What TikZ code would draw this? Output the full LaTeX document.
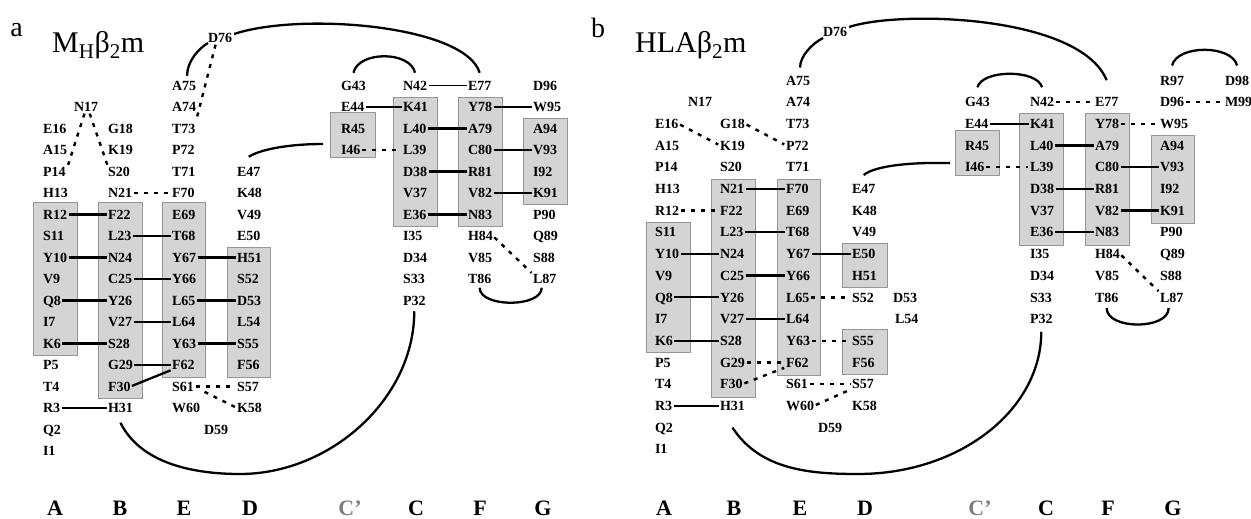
\documentclass[tikz,border=0pt]{standalone}
\usepackage{fontspec}
\setmainfont{Liberation Serif}
\usetikzlibrary{calc}
\definecolor{boxgray}{RGB}{212,212,212}
\definecolor{boxedge}{RGB}{150,150,150}
\definecolor{cpgray}{RGB}{125,125,125}
\newcommand\RA[3]{\node[res] (a#3) at (#1,{107+21.5*(#2)}) {#3};}
\newcommand\RB[3]{\node[res] (b#3) at (#1,{102+21.7*(#2)}) {#3};}
\begin{document}
\begin{tikzpicture}[x=1pt,y=-1pt,
  res/.style={anchor=west,inner sep=0pt,outer sep=0pt,text height=9.5pt,text depth=0pt,font=\fontsize{14}{14}\selectfont\bfseries},
  strand/.style={fill=boxgray,draw=boxedge,line width=0.9pt},
  bond/.style={line width=2.3pt,shorten <=1.5pt,shorten >=1.5pt},
  thinbond/.style={line width=1.2pt,shorten <=1.5pt,shorten >=1.5pt},
  hb/.style={line width=2.4pt,dash pattern=on 4pt off 6pt,shorten <=2pt,shorten >=2pt},
  loopline/.style={line width=2.3pt},
  strandlab/.style={font=\fontsize{22}{22}\selectfont\bfseries,inner sep=0pt},
  titlelab/.style={font=\fontsize{30}{30}\selectfont,anchor=base west,inner sep=0pt},
  panellab/.style={font=\fontsize{28}{28}\selectfont,inner sep=0pt}]
\useasboundingbox (0,0) rectangle (1251,519);

% ---------------- panel a ----------------
\node[panellab] (pa) at (16.5,30) {a};
\node[titlelab] (ta) at (52,53) {M\textsubscript{H}β\textsubscript{2}m};

\draw[strand] (33,202) rectangle (77,355);
\draw[strand] (98,202) rectangle (142,398);
\draw[strand] (162,202) rectangle (205,377);
\draw[strand] (227,247) rectangle (270,377);
\draw[strand] (330,112) rectangle (375,157);
\draw[strand] (393,97) rectangle (437,226);
\draw[strand] (458,97) rectangle (502,226);
\draw[strand] (523,118) rectangle (567,204);

\RA{43}{1}{E16}\RA{43}{2}{A15}\RA{43}{3}{P14}\RA{43}{4}{H13}\RA{43}{5}{R12}
\RA{43}{6}{S11}\RA{43}{7}{Y10}\RA{43}{8}{V9}\RA{43}{9}{Q8}\RA{43}{10}{I7}
\RA{43}{11}{K6}\RA{43}{12}{P5}\RA{43}{13}{T4}\RA{43}{14}{R3}\RA{43}{15}{Q2}\RA{43}{16}{I1}
\RA{74}{0}{N17}
\RA{108}{1}{G18}\RA{108}{2}{K19}\RA{108}{3}{S20}\RA{108}{4}{N21}\RA{108}{5}{F22}
\RA{108}{6}{L23}\RA{108}{7}{N24}\RA{108}{8}{C25}\RA{108}{9}{Y26}\RA{108}{10}{V27}
\RA{108}{11}{S28}\RA{108}{12}{G29}\RA{108}{13}{F30}\RA{108}{14}{H31}
\RA{172}{-1}{A75}\RA{172}{0}{A74}\RA{172}{1}{T73}\RA{172}{2}{P72}\RA{172}{3}{T71}
\RA{172}{4}{F70}\RA{172}{5}{E69}\RA{172}{6}{T68}\RA{172}{7}{Y67}\RA{172}{8}{Y66}
\RA{172}{9}{L65}\RA{172}{10}{L64}\RA{172}{11}{Y63}\RA{172}{12}{F62}\RA{172}{13}{S61}
\RA{172}{14}{W60}
\RA{204}{15}{D59}
\node[res] (aD76) at (208,38) {D76};
\RA{237}{3}{E47}\RA{237}{4}{K48}\RA{237}{5}{V49}\RA{237}{6}{E50}\RA{237}{7}{H51}
\RA{237}{8}{S52}\RA{237}{9}{D53}\RA{237}{10}{L54}\RA{237}{11}{S55}\RA{237}{12}{F56}
\RA{237}{13}{S57}\RA{237}{14}{K58}
\RA{341}{-1}{G43}\RA{341}{0}{E44}\RA{341}{1}{R45}\RA{341}{2}{I46}
\RA{403}{-1}{N42}\RA{403}{0}{K41}\RA{403}{1}{L40}\RA{403}{2}{L39}\RA{403}{3}{D38}
\RA{403}{4}{V37}\RA{403}{5}{E36}\RA{403}{6}{I35}\RA{403}{7}{D34}\RA{403}{8}{S33}\RA{403}{9}{P32}
\RA{468}{-1}{E77}\RA{468}{0}{Y78}\RA{468}{1}{A79}\RA{468}{2}{C80}\RA{468}{3}{R81}
\RA{468}{4}{V82}\RA{468}{5}{N83}\RA{468}{6}{H84}\RA{468}{7}{V85}\RA{468}{8}{T86}
\RA{533}{-1}{D96}\RA{533}{0}{W95}\RA{533}{1}{A94}\RA{533}{2}{V93}\RA{533}{3}{I92}
\RA{533}{4}{K91}\RA{533}{5}{P90}\RA{533}{6}{Q89}\RA{533}{7}{S88}\RA{533}{8}{L87}

% bonds a
\foreach \l/\r in {R12/F22,L23/T68,Y10/N24,Y67/H51,C25/Y66,Q8/Y26,L65/D53,V27/L64,
  K6/S28,Y63/S55,R3/H31,E44/K41,L40/A79,D38/R81,E36/N83,C80/V93,V82/K91}
  {\draw[bond] (a\l.east) -- (a\r.west);}
\draw[bond] (aF30.east) -- (aF62.south west);
\foreach \l/\r in {G29/F62,N42/E77,Y78/W95}
  {\draw[thinbond] (a\l.east) -- (a\r.west);}
\foreach \l/\r in {N21/F70,I46/L39,S61/S57}
  {\draw[hb] (a\l.east) -- (a\r.west);}
\draw[hb] ([xshift=-1pt]aN17.south) -- ([xshift=2pt]aP14.north east);
\draw[hb] ([xshift=3pt]aN17.south) -- (aS20.north west);
\draw[hb] ([xshift=-4pt]aD76.south) -- (aT73.north east);
\draw[hb,shorten <=12pt] (aS61.east) -- (aK58.west);
\draw[hb] (aH84.east) -- (aL87.north west);

% loops a
\draw[loopline] ([xshift=3pt,yshift=5pt]aA75.north) .. controls +(0,-14) and +(-10,6) .. ([yshift=-5pt]aD76.west);
\draw[loopline] ([xshift=2pt,yshift=4pt]aD76.east) .. controls (300,12) and (465,25) .. ([yshift=8pt]aE77.north);
\draw[loopline] ([yshift=10pt]aE47.north) .. controls +(15,-9) and +(-28,0) .. ([xshift=-18pt,yshift=6pt]aI46.west);
\draw[loopline] ([yshift=8pt]aG43.north) .. controls +(5,-22) and +(-5,-22) .. ([yshift=8pt]aN42.north);
\draw[loopline] ([yshift=-4pt]aT86.south) .. controls +(0,20) and +(0,20) .. ([xshift=-3pt,yshift=-4pt]aL87.south);
\coordinate (aLow) at (240,474);
\draw[loopline] ([yshift=-10pt]aH31.south) .. controls (140,462) and (190,474) .. (aLow)
  .. controls (330,474) and +(0,88) .. ([yshift=-6pt]aP32.south);

% strand labels a
\node[strandlab] (aSA) at (55,508) {A};
\node[strandlab] (aSB) at (120,508) {B};
\node[strandlab] (aSE) at (184,508) {E};
\node[strandlab] (aSD) at (250,508) {D};
\node[strandlab,text=cpgray] (aSCp) at (350,508) {C’};
\node[strandlab] (aSC) at (416,508) {C};
\node[strandlab] (aSF) at (480,508) {F};
\node[strandlab] (aSG) at (543,508) {G};

% ---------------- panel b ----------------
\node[panellab] (pb) at (598,27.5) {b};
\node[titlelab] (tb) at (635,53) {HLAβ\textsubscript{2}m};

\draw[strand] (646,222) rectangle (690,352);
\draw[strand] (711,179) rectangle (755,397);
\draw[strand] (777,179) rectangle (820,375);
\draw[strand] (842,243) rectangle (887,287);
\draw[strand] (842,329) rectangle (887,374);
\draw[strand] (955,130) rectangle (999,175);
\draw[strand] (1019,113) rectangle (1063,245);
\draw[strand] (1085,113) rectangle (1129,245);
\draw[strand] (1151,135) rectangle (1194,223);

\RB{655}{1}{E16}\RB{655}{2}{A15}\RB{655}{3}{P14}\RB{655}{4}{H13}\RB{655}{5}{R12}
\RB{655}{6}{S11}\RB{655}{7}{Y10}\RB{655}{8}{V9}\RB{655}{9}{Q8}\RB{655}{10}{I7}
\RB{655}{11}{K6}\RB{655}{12}{P5}\RB{655}{13}{T4}\RB{655}{14}{R3}\RB{655}{15}{Q2}\RB{655}{16}{I1}
\RB{688}{0}{N17}
\RB{720}{1}{G18}\RB{720}{2}{K19}\RB{720}{3}{S20}\RB{720}{4}{N21}\RB{720}{5}{F22}
\RB{720}{6}{L23}\RB{720}{7}{N24}\RB{720}{8}{C25}\RB{720}{9}{Y26}\RB{720}{10}{V27}
\RB{720}{11}{S28}\RB{720}{12}{G29}\RB{720}{13}{F30}\RB{720}{14}{H31}
\RB{786}{-1}{A75}\RB{786}{0}{A74}\RB{786}{1}{T73}\RB{786}{2}{P72}\RB{786}{3}{T71}
\RB{786}{4}{F70}\RB{786}{5}{E69}\RB{786}{6}{T68}\RB{786}{7}{Y67}\RB{786}{8}{Y66}
\RB{786}{9}{L65}\RB{786}{10}{L64}\RB{786}{11}{Y63}\RB{786}{12}{F62}\RB{786}{13}{S61}
\RB{786}{14}{W60}
\RB{818}{15}{D59}
\node[res] (bD76) at (823,32) {D76};
\RB{852}{4}{E47}\RB{852}{5}{K48}\RB{852}{6}{V49}\RB{852}{7}{E50}\RB{852}{8}{H51}
\RB{852}{9}{S52}\RB{893}{9}{D53}\RB{895}{10}{L54}\RB{852}{11}{S55}\RB{852}{12}{F56}
\RB{852}{13}{S57}\RB{852}{14}{K58}
\RB{965}{0}{G43}\RB{965}{1}{E44}\RB{965}{2}{R45}\RB{965}{3}{I46}
\RB{1030}{0}{N42}\RB{1030}{1}{K41}\RB{1030}{2}{L40}\RB{1030}{3}{L39}\RB{1030}{4}{D38}
\RB{1030}{5}{V37}\RB{1030}{6}{E36}\RB{1030}{7}{I35}\RB{1030}{8}{D34}\RB{1030}{9}{S33}\RB{1030}{10}{P32}
\RB{1095}{0}{E77}\RB{1095}{1}{Y78}\RB{1095}{2}{A79}\RB{1095}{3}{C80}\RB{1095}{4}{R81}
\RB{1095}{5}{V82}\RB{1095}{6}{N83}\RB{1095}{7}{H84}\RB{1095}{8}{V85}\RB{1095}{9}{T86}
\RB{1160}{-1}{R97}\RB{1160}{0}{D96}\RB{1160}{1}{W95}\RB{1160}{2}{A94}\RB{1160}{3}{V93}
\RB{1160}{4}{I92}\RB{1160}{5}{K91}\RB{1160}{6}{P90}\RB{1160}{7}{Q89}\RB{1160}{8}{S88}\RB{1160}{9}{L87}
\RB{1225}{-1}{D98}\RB{1225}{0}{M99}

% bonds b
\foreach \l/\r in {N21/F70,L23/T68,Y10/N24,Y67/E50,C25/Y66,Q8/Y26,V27/L64,K6/S28,R3/H31,
  E44/K41,L40/A79,D38/R81,E36/N83,C80/V93,V82/K91}
  {\draw[bond] (b\l.east) -- (b\r.west);}
\foreach \l/\r in {E16/K19,G18/P72,R12/F22,L65/S52,Y63/S55,G29/F62,S61/S57,
  I46/L39,N42/E77,Y78/W95,D96/M99}
  {\draw[hb] (b\l.east) -- (b\r.west);}
\draw[hb] (bF30.east) -- (bF62.south west);
\draw[hb] (bW60.east) -- (bS57.south west);
\draw[hb] (bH84.east) -- (bL87.north west);

% loops b
\draw[loopline] ([xshift=2pt,yshift=8pt]bA75.north) .. controls +(0,-12) and +(-10,5) .. ([yshift=-6pt]bD76.west);
\draw[loopline] ([xshift=2pt,yshift=5pt]bD76.east) .. controls (900,10) and (1080,15) .. ([yshift=17pt]bE77.north);
\draw[loopline] ([yshift=9pt]bE47.north) .. controls +(12,-10) and +(-35,-1) .. ([xshift=-15pt,yshift=4pt]bI46.west);
\draw[loopline] ([yshift=10pt]bG43.north) .. controls +(5,-18) and +(-5,-18) .. ([yshift=10pt]bN42.north);
\draw[loopline] ([yshift=10pt]bR97.north) .. controls +(5,-21) and +(-5,-21) .. ([yshift=10pt]bD98.north);
\draw[loopline] ([yshift=-6pt]bT86.south) .. controls +(0,22) and +(0,22) .. ([xshift=-3pt,yshift=-6pt]bL87.south);
\coordinate (bLow) at (858,474);
\draw[loopline] ([yshift=-17pt]bH31.south) .. controls (760,470) and (810,474) .. (bLow)
  .. controls (960,474) and +(0,78) .. ([yshift=-8pt]bP32.south);

% strand labels b
\node[strandlab] (bSA) at (664,508) {A};
\node[strandlab] (bSB) at (734,508) {B};
\node[strandlab] (bSE) at (800,508) {E};
\node[strandlab] (bSD) at (865,508) {D};
\node[strandlab,text=cpgray] (bSCp) at (980,508) {C’};
\node[strandlab] (bSC) at (1046,508) {C};
\node[strandlab] (bSF) at (1108,508) {F};
\node[strandlab] (bSG) at (1173,508) {G};
\end{tikzpicture}
\end{document}
